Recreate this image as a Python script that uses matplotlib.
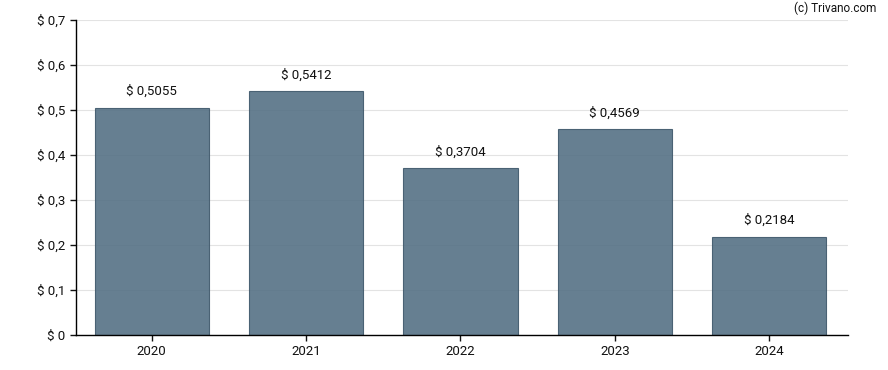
import matplotlib
matplotlib.use("Agg")
import matplotlib.pyplot as plt
from matplotlib.ticker import FuncFormatter

plt.rcParams['font.family'] = ['Roboto', 'DejaVu Sans']

years = ["2020", "2021", "2022", "2023", "2024"]
values = [0.5055, 0.5412, 0.3704, 0.4569, 0.2184]
labels = ["$ 0,5055", "$ 0,5412", "$ 0,3704", "$ 0,4569", "$ 0,2184"]

fig = plt.figure(figsize=(8.88, 3.70), dpi=100)
ax = fig.add_axes([76/888, 35/370, (848-76)/888, (335-20)/370])

x = list(range(len(years)))
ax.bar(x, values, width=0.74, color="#557185", alpha=0.9, edgecolor="#3f586b", linewidth=0.8, zorder=2)
for xi, v, lab in zip(x, values, labels):
    ax.text(xi, v + 0.022, lab, ha="center", va="bottom", fontsize=9.5, color="#111111")

ax.set_xlim(-0.49, 4.51)
ax.set_ylim(0, 0.7)
ax.set_xticks(x)
ax.set_xticklabels(years)
ax.set_yticks([0, 0.1, 0.2, 0.3, 0.4, 0.5, 0.6, 0.7])
ax.yaxis.set_major_formatter(FuncFormatter(lambda v, p: "$ 0" if v == 0 else "$ " + f"{v:.1f}".replace(".", ",")))
ax.yaxis.grid(True, color="#e3e3e3", linewidth=0.8, zorder=1)
ax.set_axisbelow(True)
for s in ["top", "right"]:
    ax.spines[s].set_visible(False)
ax.spines["left"].set_linewidth(1.0)
ax.spines["bottom"].set_linewidth(1.0)
ax.spines["left"].set_zorder(4)
ax.spines["bottom"].set_zorder(4)
ax.tick_params(axis="both", labelsize=9.5, length=4, width=1.0, colors="#111111")
ax.tick_params(axis="x", pad=3.5)
fig.text(876/888, 1 - 8/370, "(c) Trivano.com", ha="right", va="center", fontsize=8.5, color="#111111")

fig.savefig("out.png", dpi=100)
